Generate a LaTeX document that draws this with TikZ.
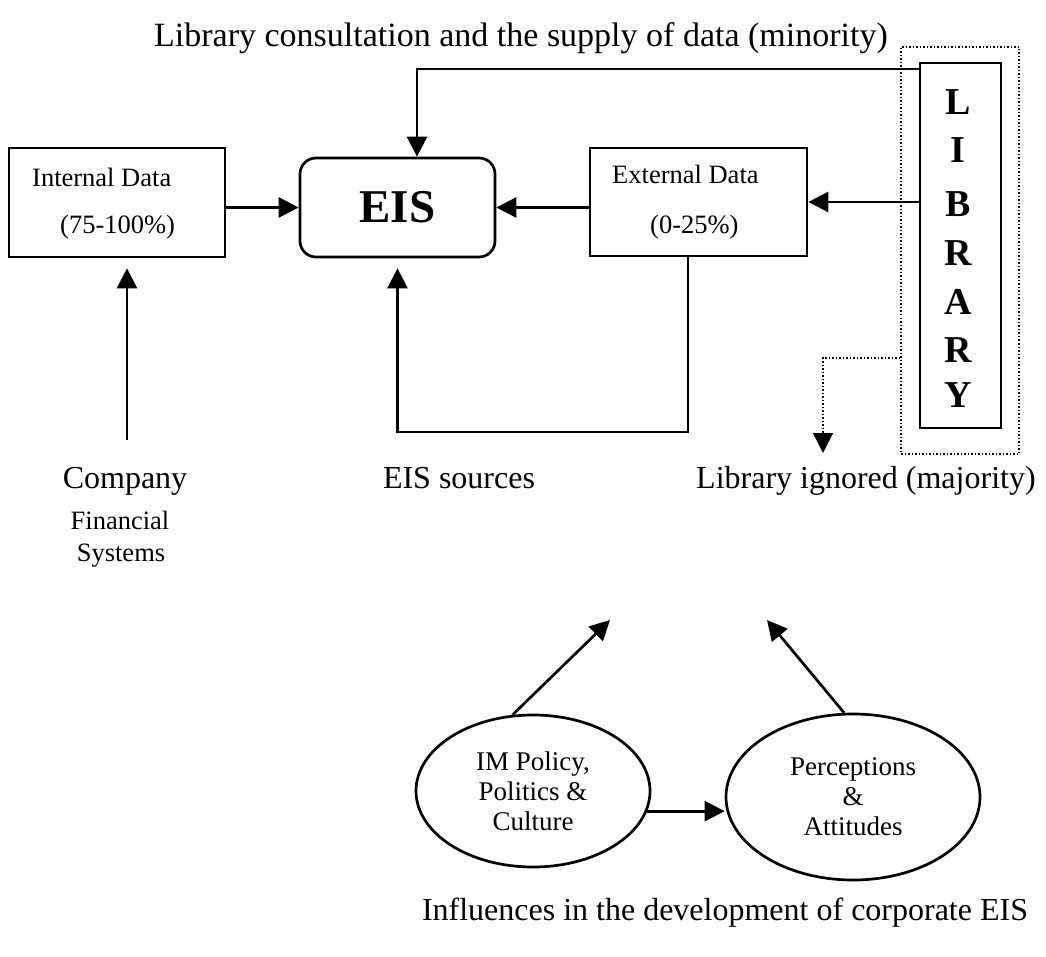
\documentclass[tikz,border=0pt]{standalone}
\usepackage{fontspec}
\setmainfont{Liberation Serif}
\usetikzlibrary{arrows.meta,shapes.geometric}
\begin{document}
\begin{tikzpicture}[x=1pt,y=-1pt,
  ln/.style={line width=2.7pt},
  arr/.style={ln,-{Triangle[length=20pt,width=20pt]}},
  dots/.style={line width=1.5pt,dotted},
  darr/.style={dots,-{Triangle[length=20pt,width=20pt]}},
  box/.style={draw,line width=2.7pt,inner sep=0pt},
  ell/.style={draw,ellipse,line width=2.7pt,inner sep=0pt,align=center,
    font=\fontsize{27}{30}\selectfont},
  small/.style={font=\fontsize{26.5}{30}\selectfont,inner sep=0pt},
  mid/.style={font=\fontsize{32}{36}\selectfont,inner sep=0pt},
  big/.style={font=\fontsize{34}{40}\selectfont,inner sep=0pt},
  letter/.style={font=\fontsize{38}{40}\selectfont\bfseries,inner sep=0pt}]
\useasboundingbox (0,0) rectangle (1046,957);

% title
\node[big,anchor=base] (title) at (521,47) {Library consultation and the supply of data (minority)};

% boxes
\node[box,minimum width=216pt,minimum height=109pt] (int) at (117,202.5) {};
\node[small,anchor=base west] (intA) at (32,187) {Internal Data};
\node[small,anchor=base west] (intB) at (60,234) {(75-100\%)};

\node[box,rounded corners=16pt,minimum width=195pt,minimum height=99pt,
  font=\fontsize{47}{50}\selectfont\bfseries] (eis) at (397.5,207.5) {EIS};

\node[box,minimum width=217pt,minimum height=108pt] (ext) at (698.5,202) {};
\node[small,anchor=base west] (extA) at (612,184) {External Data};
\node[small,anchor=base west] (extB) at (650,234) {(0-25\%)};

% library
\node[draw,dots,minimum width=118pt,minimum height=407pt,inner sep=0pt] (dbox) at (960,250.5) {};
\node[box,minimum width=81pt,minimum height=365pt] (lib) at (960.5,245.5) {};
\node[letter] (l1) at (958,102) {L};
\node[letter] (l2) at (958,150) {I};
\node[letter] (l3) at (958,204) {B};
\node[letter] (l4) at (958,253) {R};
\node[letter] (l5) at (958,302) {A};
\node[letter] (l6) at (958,350) {R};
\node[letter] (l7) at (958,395) {Y};

% connectors in the top part
\coordinate (tc) at (417,69);
\draw[arr] (tc -| lib.west) -- (tc) -- (tc |- eis.north);
\draw[arr] (lib.west |- ext.east) -- (ext.east);
\draw[arr] (ext.west |- eis.east) -- (eis.east);
\draw[arr] (int.east |- eis.west) -- (eis.west);

% company arrow
\coordinate (cs) at (127,440);
\draw[arr] (cs) -- ([yshift=-10pt]int.south -| cs);

% EIS sources loop
\coordinate (lb) at (688,432);
\coordinate (la) at (397.5,432);
\draw[arr] (lb |- ext.south) -- (lb) -- (la) -- ([yshift=-10pt]eis.south);

% dotted arrow
\coordinate (dc) at (823,358);
\coordinate (de) at (823,453);
\draw[darr] (dc -| dbox.west) -- (dc) -- (de);

% labels
\node[mid,anchor=base] (comp) at (125,488) {Company};
\node[small,anchor=base] (fin) at (120,529) {Financial};
\node[small,anchor=base] (sys) at (121,561) {Systems};
\node[mid,anchor=base] (src) at (459,488) {EIS sources};
\node[mid,anchor=base west] (ign) at (696,488) {Library ignored (majority)};

% ellipses
\node[ell,minimum width=234pt,minimum height=152pt] (pol) at (533,791)
  {IM Policy,\\Politics \&\\Culture};
\node[ell,minimum width=254pt,minimum height=166pt] (per) at (853,797)
  {Perceptions\\\&\\Attitudes};
\draw[arr] (pol.-10) -- (per.west |- pol.-10);
\coordinate (t1) at (610,620);
\coordinate (t2) at (767,620);
\draw[arr] (pol.105) -- (t1);
\draw[arr] (per.96) -- (t2);

\node[mid,anchor=base] (infl) at (725,920) {Influences in the development of corporate EIS};
\end{tikzpicture}
\end{document}
